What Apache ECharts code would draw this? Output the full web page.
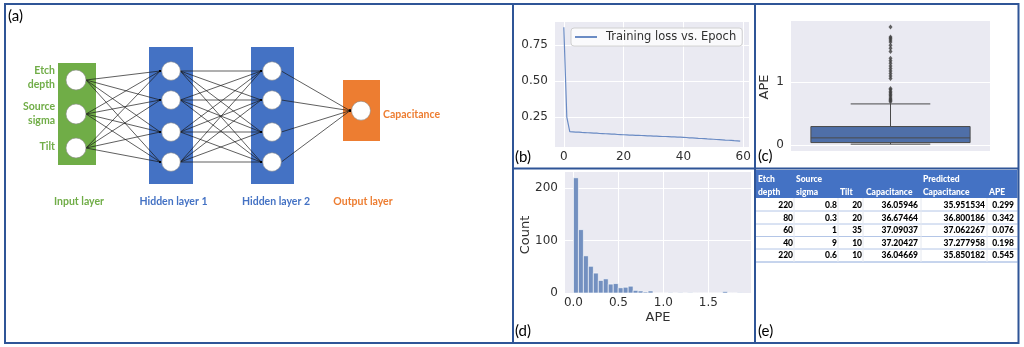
<!DOCTYPE html>
<html><head><meta charset="utf-8">
<script src="https://cdn.jsdelivr.net/npm/echarts@6/dist/echarts.min.js"></script>
<style>html,body{margin:0;padding:0;background:#fff}#c{width:1024px;height:347px}</style>
</head><body><div id="c"></div>
<script>
// ---------- DATA ----------
// (a) network
const inputNames = [['Etch','depth'],['Source','sigma'],['Tilt']];
const layerNames = ['Input layer','Hidden layer 1','Hidden layer 2','Output layer'];
const outputName = 'Capacitance';
// (b) training loss per epoch (epoch 0..59)
const trainingLoss = [0.875,0.250,0.148,0.147,0.146,0.145,0.143,0.142,0.141,0.140,
  0.139,0.138,0.136,0.135,0.134,0.133,0.132,0.131,0.129,0.128,
  0.127,0.126,0.125,0.124,0.123,0.123,0.122,0.121,0.120,0.119,
  0.118,0.117,0.116,0.115,0.115,0.114,0.113,0.112,0.111,0.110,
  0.109,0.108,0.106,0.105,0.104,0.102,0.101,0.100,0.098,0.097,
  0.096,0.094,0.093,0.092,0.090,0.089,0.088,0.086,0.085,0.083];
const lossTicksX = [0,20,40,60];
const lossTicksY = [0.25,0.50,0.75];
// (c) box plot of APE: [lower whisker, q1, median, q3, upper whisker]
const boxStats = [0.015,0.040,0.115,0.295,0.655];
const boxOutliers = [0.69,0.71,0.73,0.75,0.78,0.80,0.83,0.85,0.88,0.90,
  1.06,1.10,1.14,1.18,1.22,1.26,1.30,1.34,1.38,1.49,1.54,1.59,1.64,1.67,1.70,1.72,1.88];
const boxTicksY = [0,1];
// (d) histogram of APE
const binStart = 0.0, binWidth = 0.0553;
const histCounts = [220,121,71,51,38,24,27,17,18,10,11,13,5,4,2,4,0,0,0,1,0,1,0,1,0,0,0,0,0,0,3,0,0,1];
const histTicksX = [0,0.5,1.0,1.5];
const histTicksY = [0,100,200];
// (e) table
const tableHeader1 = ['Etch','Source','','','Predicted',''];
const tableHeader2 = ['depth','sigma','Tilt','Capacitance','Capacitance','APE'];
const etchDepth = ['220','80','60','40','220'];
const sourceSigma = ['0.8','0.3','1','9','0.6'];
const tilt = ['20','20','35','10','10'];
const capacitance = ['36.05946','36.67464','37.09037','37.20427','36.04669'];
const predictedCap = ['35.951534','36.800186','37.062267','37.277958','35.850182'];
const apeValues = ['0.299','0.342','0.076','0.198','0.545'];
const panelLabels = ['(a)','(b)','(c)','(d)','(e)'];

// ---------- LAYOUT / STYLE ----------
const FRAME = '#2f5597';
const GREEN = '#70ad47', BLUE = '#4472c4', ORANGE = '#ed7d31';
const TICK = {color:'#303030', fontSize:12, fontFamily:'DejaVu Sans'};
const g = [];

// network diagram
const layers = [
  {x:76,  ys:[80,114,148], r:10, rect:{x:58,y:63,width:38,height:102}, color:GREEN},
  {x:171, ys:[71,100,132,162], r:9.3, rect:{x:149,y:47,width:44,height:137}, color:BLUE},
  {x:272, ys:[71,100,132,162], r:9.3, rect:{x:251,y:47,width:43,height:137}, color:BLUE},
  {x:361, ys:[110.7], r:9.5, rect:{x:343,y:80,width:37,height:61}, color:ORANGE}
];
layers.forEach(L => g.push({type:'rect', shape:L.rect, style:{fill:L.color}, z:1}));
for (let i = 0; i < layers.length - 1; i++) {
  const A = layers[i], B = layers[i+1];
  A.ys.forEach(ya => B.ys.forEach(yb => {
    const x1 = A.x + A.r, x2 = B.x - B.r - 1.5;
    g.push({type:'line', shape:{x1:x1,y1:ya,x2:x2,y2:yb}, style:{stroke:'#1a1a1a', lineWidth:0.7}, z:2});
    g.push({type:'circle', shape:{cx:x2,cy:yb,r:1.1}, style:{fill:'#000'}, z:2});
  }));
}
layers.forEach(L => L.ys.forEach(y => g.push({type:'circle', shape:{cx:L.x,cy:y,r:L.r}, style:{fill:'#fff', stroke:'#8a8a8a', lineWidth:0.6}, z:3})));
const inputLabelY = [[71,85],[107,121],[147]];
inputNames.forEach((lines, i) => lines.forEach((t, j) => g.push({type:'text', x:55, y:inputLabelY[i][j], z:3,
  style:{text:t, font:'bold 10.5px Lato', fill:GREEN, textAlign:'right', textVerticalAlign:'middle'}})));
g.push({type:'text', x:383, y:115, z:3, style:{text:outputName, font:'bold 10.5px Lato', fill:ORANGE, textAlign:'left', textVerticalAlign:'middle'}});
const layerLabelX = [79,173.5,276,363];
layerNames.forEach((t, i) => g.push({type:'text', x:layerLabelX[i], y:202, z:3,
  style:{text:t, font:'bold 10.5px Lato', fill:layers[i].color, textAlign:'center', textVerticalAlign:'middle'}}));

// axis titles
g.push({type:'text', x:765, y:87, rotation:Math.PI/2, z:5, style:{text:'APE', font:'13px DejaVu Sans', fill:'#303030', textAlign:'center', textVerticalAlign:'middle'}});
g.push({type:'text', x:526, y:235, rotation:Math.PI/2, z:5, style:{text:'Count', font:'13px DejaVu Sans', fill:'#303030', textAlign:'center', textVerticalAlign:'middle'}});
g.push({type:'text', x:658, y:318, z:5, style:{text:'APE', font:'13px DejaVu Sans', fill:'#303030', textAlign:'center', textVerticalAlign:'middle'}});

// table
const TFONT = '900 8.5px Lato';
const colLeft = [758,796,840,866,923,989];
const colRight = [793,837,862,918,985,1014];
g.push({type:'rect', shape:{x:756,y:170,width:261.5,height:28}, style:{fill:BLUE}, z:2});
tableHeader1.forEach((t,i) => t && g.push({type:'text', x:colLeft[i], y:179, z:3, style:{text:t, font:TFONT, fill:'#fff', textAlign:'left', textVerticalAlign:'middle'}}));
tableHeader2.forEach((t,i) => t && g.push({type:'text', x:colLeft[i], y:192, z:3, style:{text:t, font:TFONT, fill:'#fff', textAlign:'left', textVerticalAlign:'middle'}}));
const rowLines = [211,224,236.5,249,262];
rowLines.forEach((y,i) => g.push({type:'line', shape:{x1:756,y1:y,x2:1017.5,y2:y}, style:{stroke: i===rowLines.length-1 ? '#8eaadb' : '#b4c6e7', lineWidth:1}, z:2}));
[794,838,863,921,987].forEach(x => g.push({type:'line', shape:{x1:x,y1:198,x2:x,y2:262}, style:{stroke:'#e4e8f0', lineWidth:1}, z:2}));
const columns = [etchDepth, sourceSigma, tilt, capacitance, predictedCap, apeValues];
const rowY = [205,218,230.5,243,255.5];
columns.forEach((col,c) => col.forEach((t,r) => g.push({type:'text', x:colRight[c], y:rowY[r], z:3,
  style:{text:t, font:TFONT, fill:'#000', textAlign:'right', textVerticalAlign:'middle'}})));

// panel labels
const labelPos = [[8,16],[515,157],[758,156],[515,331],[758,331]];
panelLabels.forEach((t,i) => g.push({type:'text', x:labelPos[i][0], y:labelPos[i][1], z:6,
  style:{text:t, font:'15px Lato', fill:'#000', textAlign:'left', textVerticalAlign:'middle'}}));

// frames
g.push({type:'rect', shape:{x:5,y:4,width:1013.5,height:339}, style:{fill:null, stroke:FRAME, lineWidth:2}, z:10});
g.push({type:'line', shape:{x1:513,y1:4,x2:513,y2:343}, style:{stroke:FRAME, lineWidth:2}, z:10});
g.push({type:'line', shape:{x1:755,y1:4,x2:755,y2:343}, style:{stroke:FRAME, lineWidth:2}, z:10});
g.push({type:'line', shape:{x1:513,y1:168.5,x2:1018.5,y2:168.5}, style:{stroke:FRAME, lineWidth:2}, z:10});

// ---------- CHART ----------
const gridBase = {show:true, backgroundColor:'#eaeaf2', borderWidth:0, containLabel:false, outerBoundsMode:'none'};
const split = {show:true, lineStyle:{color:'#ffffff', width:1}};
function valAxis(grid, min, max, ticks, fmt, margin, extra) {
  return Object.assign({gridIndex:grid, type:'value', min:min, max:max,
    axisLine:{show:false}, axisTick:{show:false, customValues:ticks},
    axisLabel:Object.assign({customValues:ticks, margin:margin, formatter:fmt}, TICK),
    splitLine:split}, extra||{});
}
const histData = histCounts.map((c,i) => [binStart + i*binWidth, binStart + (i+1)*binWidth, c]);

const option = {
  animation:false,
  backgroundColor:'#fff',
  grid:[
    Object.assign({left:555, top:22, width:194, height:125}, gridBase),
    Object.assign({left:791, top:21, width:199, height:130}, gridBase),
    Object.assign({left:565, top:172, width:186, height:121}, gridBase)
  ],
  xAxis:[
    valAxis(0, -2.95, 61.95, lossTicksX, v => String(v), 4),
    {gridIndex:1, type:'category', data:['APE'], axisLine:{show:false}, axisTick:{show:false}, axisLabel:{show:false}, splitLine:{show:false}},
    valAxis(2, -0.094, 1.974, histTicksX, v => v.toFixed(1), 4)
  ],
  yAxis:[
    valAxis(0, 0.042, 0.911, lossTicksY, v => v.toFixed(2), 7),
    valAxis(1, -0.094, 1.974, boxTicksY, v => String(v), 7),
    valAxis(2, 0, 231, histTicksY, v => String(v), 7)
  ],
  legend:{
    data:['Training loss vs. Epoch'], left:571, top:28, orient:'horizontal',
    backgroundColor:'rgba(255,255,255,0.75)', borderColor:'#d0d0d0', borderWidth:1, borderRadius:3,
    padding:[3,6,3,4], itemWidth:22, itemHeight:2, icon:'rect',
    textStyle:{fontSize:11.5, fontFamily:'DejaVu Sans', color:'#303030', padding:[0,0,0,4]}
  },
  graphic:{elements:g},
  series:[
    {name:'Training loss vs. Epoch', type:'line', xAxisIndex:0, yAxisIndex:0, symbol:'none',
     data:trainingLoss.map((v,i) => [i, v]), lineStyle:{color:'#6a8bc4', width:1.2}, itemStyle:{color:'#6a8bc4'}, silent:true},
    {type:'custom', xAxisIndex:1, yAxisIndex:1, silent:true,
     data:[[0].concat(boxStats)], encode:{x:0, y:[1,2,3,4,5]},
     renderItem:function(params, api){
       const cx = api.coord([api.value(0), 0])[0];
       const bw = api.size([1, 0])[0] * 0.8;
       const y = k => api.coord([api.value(0), api.value(k)])[1];
       const lw = y(1), q1 = y(2), med = y(3), q3 = y(4), uw = y(5);
       const ls = {stroke:'#4a4a4a', lineWidth:1};
       return {type:'group', children:[
         {type:'line', shape:{x1:cx,y1:q3,x2:cx,y2:uw}, style:ls},
         {type:'line', shape:{x1:cx,y1:q1,x2:cx,y2:lw}, style:ls},
         {type:'line', shape:{x1:cx-bw/4,y1:uw,x2:cx+bw/4,y2:uw}, style:ls},
         {type:'line', shape:{x1:cx-bw/4,y1:lw,x2:cx+bw/4,y2:lw}, style:ls},
         {type:'rect', shape:{x:cx-bw/2,y:q3,width:bw,height:q1-q3}, style:{fill:'#4f6fa8', stroke:'#4a4a4a', lineWidth:1}},
         {type:'line', shape:{x1:cx-bw/2,y1:med,x2:cx+bw/2,y2:med}, style:ls}
       ]};
     }},
    {type:'scatter', xAxisIndex:1, yAxisIndex:1, silent:true, symbol:'diamond', symbolSize:[4,5],
     data:boxOutliers.map(v => [0, v]), itemStyle:{color:'#3d3d3d'}},
    {type:'custom', xAxisIndex:2, yAxisIndex:2, silent:true, data:histData, encode:{x:[0,1], y:2},
     renderItem:function(params, api){
       const p0 = api.coord([api.value(0), api.value(2)]);
       const p1 = api.coord([api.value(1), 0]);
       return {type:'rect', shape:{x:p0[0], y:p0[1], width:p1[0]-p0[0], height:p1[1]-p0[1]},
               style:{fill:'#7390c0', stroke:'#ffffff', lineWidth:0.6}};
     }}
  ]
};
const chart = echarts.init(document.getElementById('c'), null, {renderer:'canvas'});
chart.setOption(option);
</script>
</body></html>
